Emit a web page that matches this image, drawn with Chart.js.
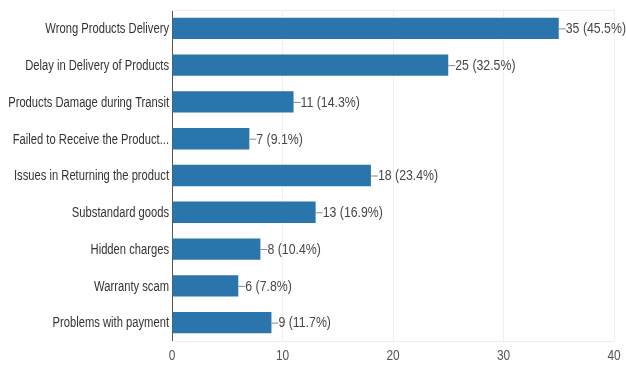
<!DOCTYPE html>
<html>
<head>
<meta charset="utf-8">
<script src="https://cdn.jsdelivr.net/npm/chart.js@4/dist/chart.umd.min.js"></script>
<style>
  html, body { margin: 0; padding: 0; background: #ffffff; }
  #wrap { width: 626px; height: 370px; position: relative; }
</style>
</head>
<body>
<div id="wrap"><canvas id="chart"></canvas></div>
<script>
// Survey responses: complaints reported by customers
const categories = [
  'Wrong Products Delivery',
  'Delay in Delivery of Products',
  'Products Damage during Transit',
  'Failed to Receive the Product...',
  'Issues in Returning the product',
  'Substandard goods',
  'Hidden charges',
  'Warranty scam',
  'Problems with payment'
];
const counts = [35, 25, 11, 7, 18, 13, 8, 6, 9];
const percents = ['45.5%', '32.5%', '14.3%', '9.1%', '23.4%', '16.9%', '10.4%', '7.8%', '11.7%'];
const xTicks = [0, 10, 20, 30, 40];

const FONT = "'Liberation Sans', Arial, sans-serif";

// Text in a condensed style: regular face squeezed horizontally
function narrowText(ctx, text, x, y, align, squeeze) {
  ctx.save();
  ctx.translate(x, y);
  ctx.scale(squeeze, 1);
  ctx.textAlign = align;
  ctx.fillText(text, 0, 0);
  ctx.restore();
}

// Category names, x tick numbers and the per-bar value labels
const axisText = {
  id: 'axisText',
  afterDatasetsDraw(chart) {
    const ctx = chart.ctx;
    const yScale = chart.scales.y;
    const xScale = chart.scales.x;
    const meta = chart.getDatasetMeta(0);
    ctx.save();
    ctx.textBaseline = 'middle';

    // category labels, right-aligned against the axis
    ctx.font = '14px ' + FONT;
    ctx.fillStyle = '#333333';
    categories.forEach((name, i) => {
      narrowText(ctx, name, yScale.right - 3, yScale.getPixelForTick(i) + 1, 'right', 0.8);
    });

    // x tick numbers
    ctx.fillStyle = '#555555';
    xTicks.forEach(v => {
      narrowText(ctx, String(v), xScale.getPixelForValue(v), xScale.top + 15, 'center', 0.85);
    });

    // leader line and "count (percent)" after each bar
    meta.data.forEach((bar, i) => {
      const x = bar.x;
      const y = bar.y;
      ctx.strokeStyle = '#8a8a8a';
      ctx.lineWidth = 1;
      ctx.beginPath();
      ctx.moveTo(x, y + 0.5);
      ctx.lineTo(x + 7, y + 0.5);
      ctx.stroke();
      ctx.fillStyle = '#474747';
      narrowText(ctx, counts[i] + ' (' + percents[i] + ')', x + 7, y + 1, 'left', 0.88);
    });
    ctx.restore();
  }
};

// Faint frame along the top and bottom of the plot area
const plotFrame = {
  id: 'plotFrame',
  beforeDatasetsDraw(chart) {
    const { ctx, chartArea: a } = chart;
    ctx.save();
    ctx.strokeStyle = '#ececec';
    ctx.lineWidth = 1;
    ctx.beginPath();
    ctx.moveTo(a.left, a.top + 0.5);
    ctx.lineTo(a.right, a.top + 0.5);
    ctx.moveTo(a.left, a.bottom + 0.5);
    ctx.lineTo(a.right, a.bottom + 0.5);
    ctx.stroke();
    ctx.restore();
  }
};

new Chart(document.getElementById('chart'), {
  type: 'bar',
  data: {
    labels: categories,
    datasets: [{
      data: counts,
      backgroundColor: '#2a75ab',
      borderWidth: 0,
      categoryPercentage: 1,
      barPercentage: 0.58
    }]
  },
  options: {
    indexAxis: 'y',
    responsive: true,
    maintainAspectRatio: false,
    animation: false,
    layout: { padding: { top: 10, right: 12, left: 0, bottom: 0 } },
    plugins: {
      legend: { display: false },
      tooltip: { enabled: false }
    },
    scales: {
      x: {
        min: 0,
        max: 40,
        afterBuildTicks(scale) { scale.ticks = xTicks.map(v => ({ value: v })); },
        afterFit(scale) { scale.height = 29; },
        grid: { color: '#efefef', drawTicks: false, lineWidth: 1 },
        border: { display: false },
        ticks: { display: false }
      },
      y: {
        afterFit(scale) { scale.width = 172; },
        grid: { display: false, drawTicks: false },
        border: { display: true, color: '#555555', width: 1 },
        ticks: { display: false }
      }
    }
  },
  plugins: [plotFrame, axisText]
});
</script>
</body>
</html>
